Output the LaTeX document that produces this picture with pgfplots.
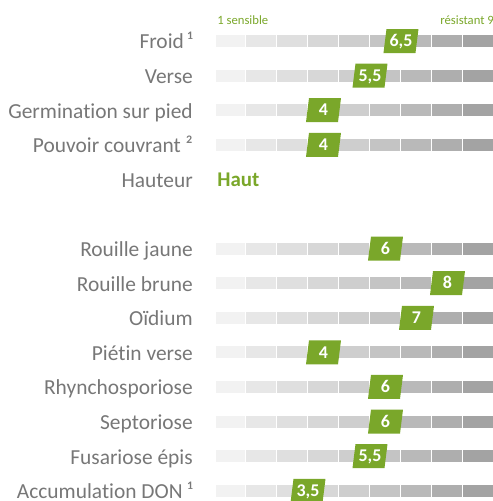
\documentclass[border=0pt]{standalone}
\usepackage{fontspec}
\setmainfont{Carlito}[Ligatures=NoCommon]
\usepackage{pgfplots}
\pgfplotsset{compat=1.18}
\usepackage{pgfplotstable}
\definecolor{lab}{HTML}{777777}
\definecolor{grn}{HTML}{7AA72A}
\definecolor{s1}{HTML}{F2F2F2}
\definecolor{s2}{HTML}{E7E7E7}
\definecolor{s3}{HTML}{DFDFDF}
\definecolor{s4}{HTML}{D7D7D7}
\definecolor{s5}{HTML}{CECECE}
\definecolor{s6}{HTML}{C4C4C4}
\definecolor{s7}{HTML}{B9B9B9}
\definecolor{s8}{HTML}{AEAEAE}
\definecolor{s9}{HTML}{A3A3A3}

\pgfdeclareplotmark{para}{%
  \pgfpathmoveto{\pgfpoint{-17.5bp}{-12bp}}%
  \pgfpathlineto{\pgfpoint{14.5bp}{-12bp}}%
  \pgfpathlineto{\pgfpoint{17.5bp}{12bp}}%
  \pgfpathlineto{\pgfpoint{-14.5bp}{12bp}}%
  \pgfpathclose
  \pgfusepathqfill}

\pgfplotstableread{
row base seg
0 0.5 1
1 0.5 1
2 0.5 1
3 0.5 1
6 0.5 1
7 0.5 1
8 0.5 1
9 0.5 1
10 0.5 1
11 0.5 1
12 0.5 1
13 0.5 1
}\bars

\pgfplotstableread{
row val lab
0 6.5 6,5
1 5.5 5,5
2 4 4
3 4 4
6 6 6
7 8 8
8 7 7
9 4 4
10 6 6
11 6 6
12 5.5 5,5
13 3.5 3,5
}\scores

\pgfplotsset{
  common/.style={
    scale only axis, width=279bp, height=501bp,
    at={(0,0)}, anchor=south west,
    xmin=0.5, xmax=9.5, ymin=-1.185, ymax=13.295,
    y dir=reverse,
    axis line style={draw=none},
    major tick length=0pt,
    xtick=\empty,
  },
}

\begin{document}
\begin{tikzpicture}
\begin{axis}[common,
  xbar stacked, bar width=13bp,
  ytick=\empty,
]
\addplot[draw=none, fill=none] table[x=base, y=row]{\bars};
\addplot[fill=s1, draw=white, line width=1bp] table[x=seg, y=row]{\bars};
\addplot[fill=s2, draw=white, line width=1bp] table[x=seg, y=row]{\bars};
\addplot[fill=s3, draw=white, line width=1bp] table[x=seg, y=row]{\bars};
\addplot[fill=s4, draw=white, line width=1bp] table[x=seg, y=row]{\bars};
\addplot[fill=s5, draw=white, line width=1bp] table[x=seg, y=row]{\bars};
\addplot[fill=s6, draw=white, line width=1bp] table[x=seg, y=row]{\bars};
\addplot[fill=s7, draw=white, line width=1bp] table[x=seg, y=row]{\bars};
\addplot[fill=s8, draw=white, line width=1bp] table[x=seg, y=row]{\bars};
\addplot[fill=s9, draw=white, line width=1bp] table[x=seg, y=row]{\bars};
\end{axis}
\begin{axis}[common,
  ytick={0,1,2,3,4,6,7,8,9,10,11,12,13},
  yticklabels={Froid\,¹, Verse, Germination sur pied, Pouvoir couvrant ², Hauteur,
    Rouille jaune, Rouille brune, Oïdium, Piétin verse, Rhynchosporiose,
    Septoriose, Fusariose épis, Accumulation DON ¹},
  yticklabel style={font=\fontsize{21.5}{24}\selectfont, text=lab, inner sep=0pt,
    anchor=east, text height=13.8bp, text depth=0pt, yshift=-1bp},
  yticklabel shift=22bp,
  clip=false,
]
\addplot[only marks, mark=para, mark options={fill=grn, draw=none},
  point meta=explicit symbolic,
  nodes near coords,
  nodes near coords align={center},
  every node near coord/.style={anchor=center, text=white, inner sep=0pt,
    text height=11.4bp, text depth=0pt,
    font=\bfseries\fontsize{18}{18}\selectfont},
] table[x=val, y=row, meta=lab]{\scores};
\node[anchor=west, text=grn, font=\fontsize{12.7}{14}\selectfont, inner sep=0pt]
  at (axis cs:0.57,-0.6) {1 sensible};
\node[anchor=east, text=grn, font=\fontsize{12.7}{14}\selectfont, inner sep=0pt]
  at (axis cs:9.5,-0.6) {résistant 9};
\node[anchor=west, text=grn, font=\bfseries\fontsize{21}{24}\selectfont, inner sep=0pt,
  text height=13.4bp, text depth=0pt]
  at (axis cs:0.57,4) {Haut};
\end{axis}
\pgfresetboundingbox
\useasboundingbox (-215bp,0) rectangle (278bp,501bp);
\end{tikzpicture}
\end{document}
